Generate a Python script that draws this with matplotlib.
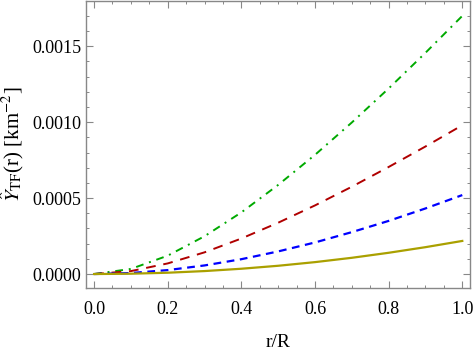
import numpy as np
import matplotlib
matplotlib.use('Agg')
import matplotlib.pyplot as plt
from matplotlib.ticker import MultipleLocator, FormatStrFormatter

plt.rcParams['font.family'] = ['Liberation Serif', 'DejaVu Serif']
plt.rcParams['mathtext.fontset'] = 'stix'

# r/R sample points and curve values
r = [0.0, 0.1, 0.2, 0.3, 0.4, 0.5, 0.6, 0.7, 0.8, 0.9, 1.0]
y_green = [0.0, 0.0000337, 0.000121, 0.000249, 0.000406, 0.000587,
           0.000785, 0.000998, 0.001222, 0.001457, 0.0017]
y_red = [0.0, 0.0000194, 0.00007, 0.000143, 0.000234, 0.000338,
         0.000452, 0.000575, 0.000705, 0.00084, 0.00098]
y_blue = [0.0, 0.0000067, 0.000026, 0.0000567, 0.0000978, 0.000149,
          0.000208, 0.000276, 0.00035, 0.000432, 0.00052]
y_olive = [0.0, 0.0000022, 0.0000087, 0.0000196, 0.0000349, 0.0000545,
           0.0000785, 0.000107, 0.00014, 0.000177, 0.000218]

fig = plt.figure(figsize=(4.74, 3.54), dpi=100)
ax = fig.add_axes([0.1814, 0.1864, 0.8102, 0.8116])

ax.plot(r, y_green, color='#00aa00', linewidth=1.4, linestyle=(0, (4, 3, 1, 3)))
ax.plot(r, y_red, color='#b00000', linewidth=1.4, linestyle=(0, (5, 4)))
ax.plot(r, y_blue, color='#0000ff', linewidth=1.6, linestyle=(0, (3.5, 2.5)))
ax.plot(r, y_olive, color='#aaa000', linewidth=1.6, linestyle='-')

ax.set_xlim(-0.022, 1.021)
ax.set_ylim(-0.000092, 0.0018)

ax.xaxis.set_major_locator(MultipleLocator(0.2))
ax.xaxis.set_minor_locator(MultipleLocator(0.05))
ax.yaxis.set_major_locator(MultipleLocator(0.0005))
ax.yaxis.set_minor_locator(MultipleLocator(0.0001))
ax.xaxis.set_major_formatter(FormatStrFormatter('%.1f'))
ax.yaxis.set_major_formatter(FormatStrFormatter('%.4f'))

ax.tick_params(which='both', direction='in', top=True, right=True,
               color='#888888', labelsize=13)
ax.tick_params(which='major', length=5, width=0.8)
ax.tick_params(which='minor', length=2.5, width=0.7)
ax.tick_params(axis='x', which='major', pad=9)
for s in ax.spines.values():
    s.set_color('#888888')
    s.set_linewidth(1.0)

ax.set_xlabel('r/R', fontsize=14, labelpad=12)
ax.set_ylabel(r'$\hat{Y}_{\rm TF}$(r) [km$^{-2}$]', fontsize=15, labelpad=4)

plt.savefig('out.png', dpi=100)
plt.close()
